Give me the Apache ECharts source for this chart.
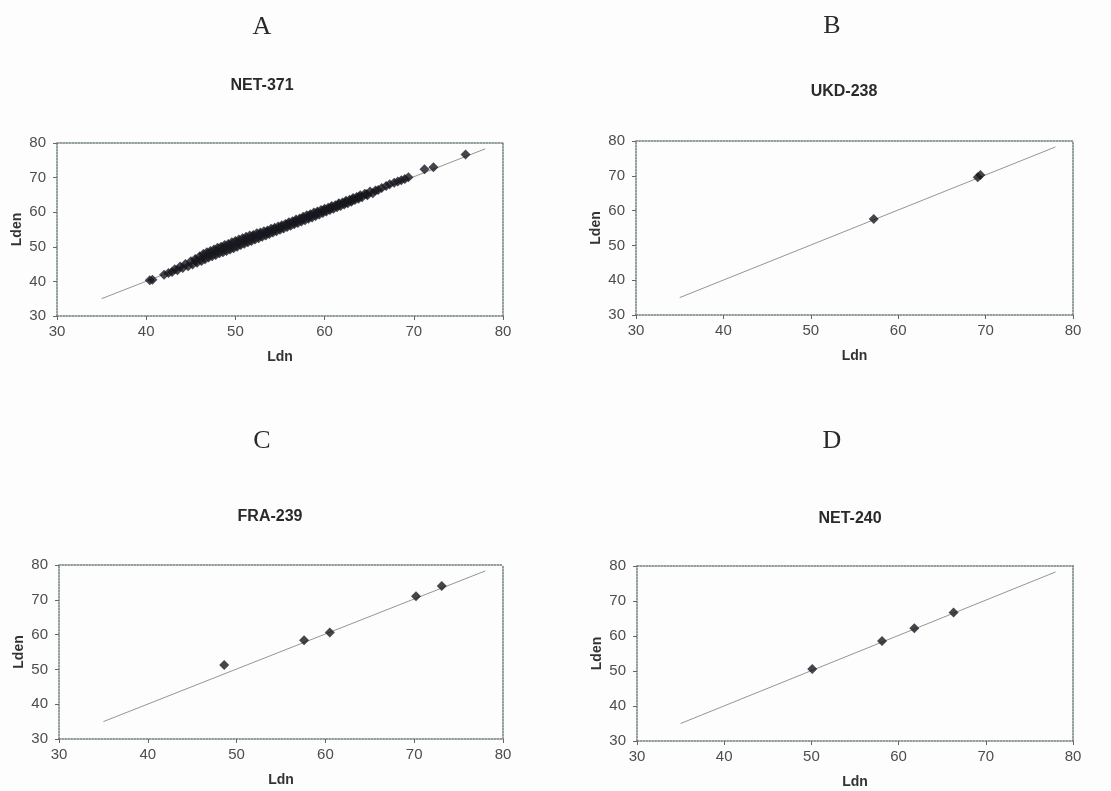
<!DOCTYPE html>
<html>
<head>
<meta charset="utf-8">
<script src="https://cdn.jsdelivr.net/npm/echarts@6/dist/echarts.min.js"></script>
<style>
html,body{margin:0;padding:0;background:#fdfdfd;}
#chart{width:1111px;height:791px;}
</style>
</head>
<body>
<div id="chart"></div>
<script>
// ---- data ----
const panelLetters = ['A', 'B', 'C', 'D'];
const panelTitles = ['NET-371', 'UKD-238', 'FRA-239', 'NET-240'];
const xTickValues = [30, 40, 50, 60, 70, 80];
const yTickValues = [30, 40, 50, 60, 70, 80];
const xAxisName = 'Ldn';
const yAxisName = 'Lden';

// reference line (Lden = Ldn) as drawn
const fitLine = [[35, 35], [78, 78.3]];

// NET-371: dense cloud of points along the line (estimated from the band)
const net371 = [
  [40.4, 40.3], [40.7, 40.5], [42.0, 41.9], [42.5, 42.4], [42.9, 42.7], [43.2, 43.5], [43.5, 43.2],
  [43.8, 44.3], [44.1, 43.9], [44.4, 45.0], [44.7, 44.4], [45.0, 45.8], [45.2, 44.9], [45.5, 46.5],
  [45.7, 45.4], [46.0, 47.3], [46.2, 45.9], [46.4, 47.9], [46.6, 46.4], [46.8, 48.4], [47.0, 46.9],
  [47.2, 48.8], [47.4, 47.3], [47.6, 49.2], [47.8, 47.6], [48.0, 49.7], [48.2, 48.1], [48.4, 50.0],
  [48.6, 48.4], [48.8, 50.5], [49.0, 48.8], [49.2, 50.8], [49.4, 49.2], [49.6, 51.3], [49.8, 49.6],
  [50.0, 51.7], [50.2, 50.0], [50.4, 52.1], [50.6, 50.5], [50.8, 52.5], [51.0, 50.9], [51.2, 52.9],
  [51.4, 51.3], [51.6, 53.3], [51.8, 51.7], [52.0, 53.4], [52.2, 52.1], [52.4, 53.9], [52.6, 52.5],
  [52.8, 54.1], [53.0, 52.9], [53.2, 54.5], [53.4, 53.3], [53.6, 54.7], [53.8, 53.7], [54.0, 55.2],
  [54.2, 54.1], [54.4, 55.5], [54.6, 54.5], [54.8, 55.9], [55.0, 54.9], [55.2, 56.2], [55.4, 55.3],
  [55.6, 56.6], [55.8, 55.7], [56.0, 57.1], [56.2, 56.1], [56.4, 57.4], [56.6, 56.5], [56.8, 57.9],
  [57.0, 56.9], [57.2, 58.2], [57.4, 57.3], [57.6, 58.7], [57.8, 57.7], [58.0, 59.1], [58.2, 58.1],
  [58.4, 59.4], [58.6, 58.5], [58.8, 59.9], [59.0, 58.9], [59.2, 60.2], [59.4, 59.3], [59.6, 60.6],
  [59.8, 59.8], [60.0, 61.0], [60.2, 60.2], [60.4, 61.3], [60.6, 60.6], [60.8, 61.8], [61.0, 61.0],
  [61.2, 62.0], [61.4, 61.4], [61.6, 62.6], [61.8, 61.8], [62.0, 62.8], [62.2, 62.2], [62.4, 63.3],
  [62.6, 62.6], [62.8, 63.6], [63.0, 63.0], [63.2, 64.1], [63.4, 63.5], [63.6, 64.4], [63.8, 63.9],
  [64.0, 64.9], [64.2, 64.3], [64.5, 65.3], [64.8, 64.9], [65.1, 66.0], [65.4, 65.5], [65.7, 66.3],
  [66.0, 66.4], [66.4, 67.0], [66.9, 67.6], [67.3, 68.1], [67.8, 68.5], [68.2, 68.9], [68.6, 69.2],
  [69.0, 69.6], [69.4, 70.1], [71.2, 72.4], [72.2, 73.0], [75.8, 76.7],
  // middle of the band
  [45.6, 46.0], [46.3, 46.9], [47.1, 47.9], [47.9, 48.8], [48.7, 49.6], [49.5, 50.4], [50.3, 51.1],
  [51.1, 52.0], [51.9, 52.8], [52.7, 53.4], [53.5, 54.1], [54.3, 54.9], [55.1, 55.7], [55.9, 56.5],
  [56.7, 57.3], [57.5, 58.1], [58.3, 58.9], [59.1, 59.7], [59.9, 60.5], [60.7, 61.3], [61.5, 62.1],
  [62.3, 62.8], [63.1, 63.6], [63.9, 64.5], [64.7, 65.2]
];
const ukd238 = [[57.2, 57.6], [69.1, 69.6], [69.4, 70.2]];
const fra239 = [[48.6, 51.3], [57.6, 58.4], [60.5, 60.6], [70.2, 71.0], [73.1, 74.0]];
const net240 = [[50.1, 50.6], [58.1, 58.6], [61.8, 62.2], [66.3, 66.7]];

const panelData = [net371, ukd238, fra239, net240];

// ---- layout ----
const grids = [
  {left: 57, top: 143, width: 446, height: 173},
  {left: 636, top: 141, width: 437, height: 174},
  {left: 59, top: 565, width: 444, height: 174},
  {left: 637, top: 566, width: 436, height: 175}
];
const letterPos = [[262, 27], [832, 26], [262, 441], [832, 441]];
const titlePos = [[262, 86], [844, 92], [270, 517], [850, 519]];

const FONT = '"Liberation Sans", Arial, sans-serif';
const borderStyle = {color: '#6f7d75', width: 1.5, type: 'dotted'};
const lo = 30, hi = 80, step = 10;

const option = {
  backgroundColor: '#fdfdfd',
  animation: false,
  grid: grids.map(g => Object.assign({containLabel: false}, g)),
  xAxis: [],
  yAxis: [],
  series: [],
  graphic: []
};

grids.forEach((g, i) => {
  option.xAxis.push({
    type: 'value', gridIndex: i, min: lo, max: hi, interval: step, position: 'bottom',
    name: xAxisName, nameLocation: 'middle', nameGap: 34,
    nameTextStyle: {fontFamily: FONT, fontWeight: 'bold', fontSize: 14, color: '#333'},
    axisLine: {show: true, onZero: false, lineStyle: borderStyle},
    axisTick: {show: true, length: 4, lineStyle: {color: '#666'}},
    axisLabel: {fontFamily: FONT, fontSize: 15, color: '#4d4d4d', margin: 8,
      formatter: v => xTickValues.includes(v) ? String(v) : ''},
    splitLine: {show: false}
  });
  option.xAxis.push({
    type: 'value', gridIndex: i, min: lo, max: hi, interval: step, position: 'top',
    axisLine: {show: true, onZero: false, lineStyle: borderStyle},
    axisTick: {show: false}, axisLabel: {show: false}, splitLine: {show: false}
  });
  option.yAxis.push({
    type: 'value', gridIndex: i, min: lo, max: hi, interval: step, position: 'left',
    name: yAxisName, nameLocation: 'middle', nameGap: 33, nameRotate: 90,
    nameTextStyle: {fontFamily: FONT, fontWeight: 'bold', fontSize: 14, color: '#333'},
    axisLine: {show: true, onZero: false, lineStyle: borderStyle},
    axisTick: {show: true, length: 4, lineStyle: {color: '#666'}},
    axisLabel: {fontFamily: FONT, fontSize: 15, color: '#4d4d4d', margin: 11,
      formatter: v => yTickValues.includes(v) ? String(v) : ''},
    splitLine: {show: false}
  });
  option.yAxis.push({
    type: 'value', gridIndex: i, min: lo, max: hi, interval: step, position: 'right',
    axisLine: {show: true, onZero: false, lineStyle: borderStyle},
    axisTick: {show: false}, axisLabel: {show: false}, splitLine: {show: false}
  });
  option.series.push({
    type: 'line', xAxisIndex: 2 * i, yAxisIndex: 2 * i, data: fitLine,
    showSymbol: false, symbol: 'none', silent: true,
    lineStyle: {color: '#8f9a92', width: 1}, z: 2
  });
  option.series.push({
    type: 'scatter', xAxisIndex: 2 * i, yAxisIndex: 2 * i, data: panelData[i],
    symbol: 'diamond', symbolSize: 10,
    itemStyle: {color: '#16161e'}, z: 3
  });
  option.graphic.push({
    type: 'text', x: letterPos[i][0], y: letterPos[i][1],
    style: {text: panelLetters[i], font: '26px "Liberation Serif", "Times New Roman", serif',
      fill: '#2a2a2a', textAlign: 'center', textVerticalAlign: 'middle'}
  });
  option.graphic.push({
    type: 'text', x: titlePos[i][0], y: titlePos[i][1],
    style: {text: panelTitles[i], font: 'bold 16px ' + FONT,
      fill: '#2a2a2a', textAlign: 'center', textVerticalAlign: 'middle'}
  });
});

const chart = echarts.init(document.getElementById('chart'), null, {renderer: 'canvas'});
chart.setOption(option);
</script>
</body>
</html>
